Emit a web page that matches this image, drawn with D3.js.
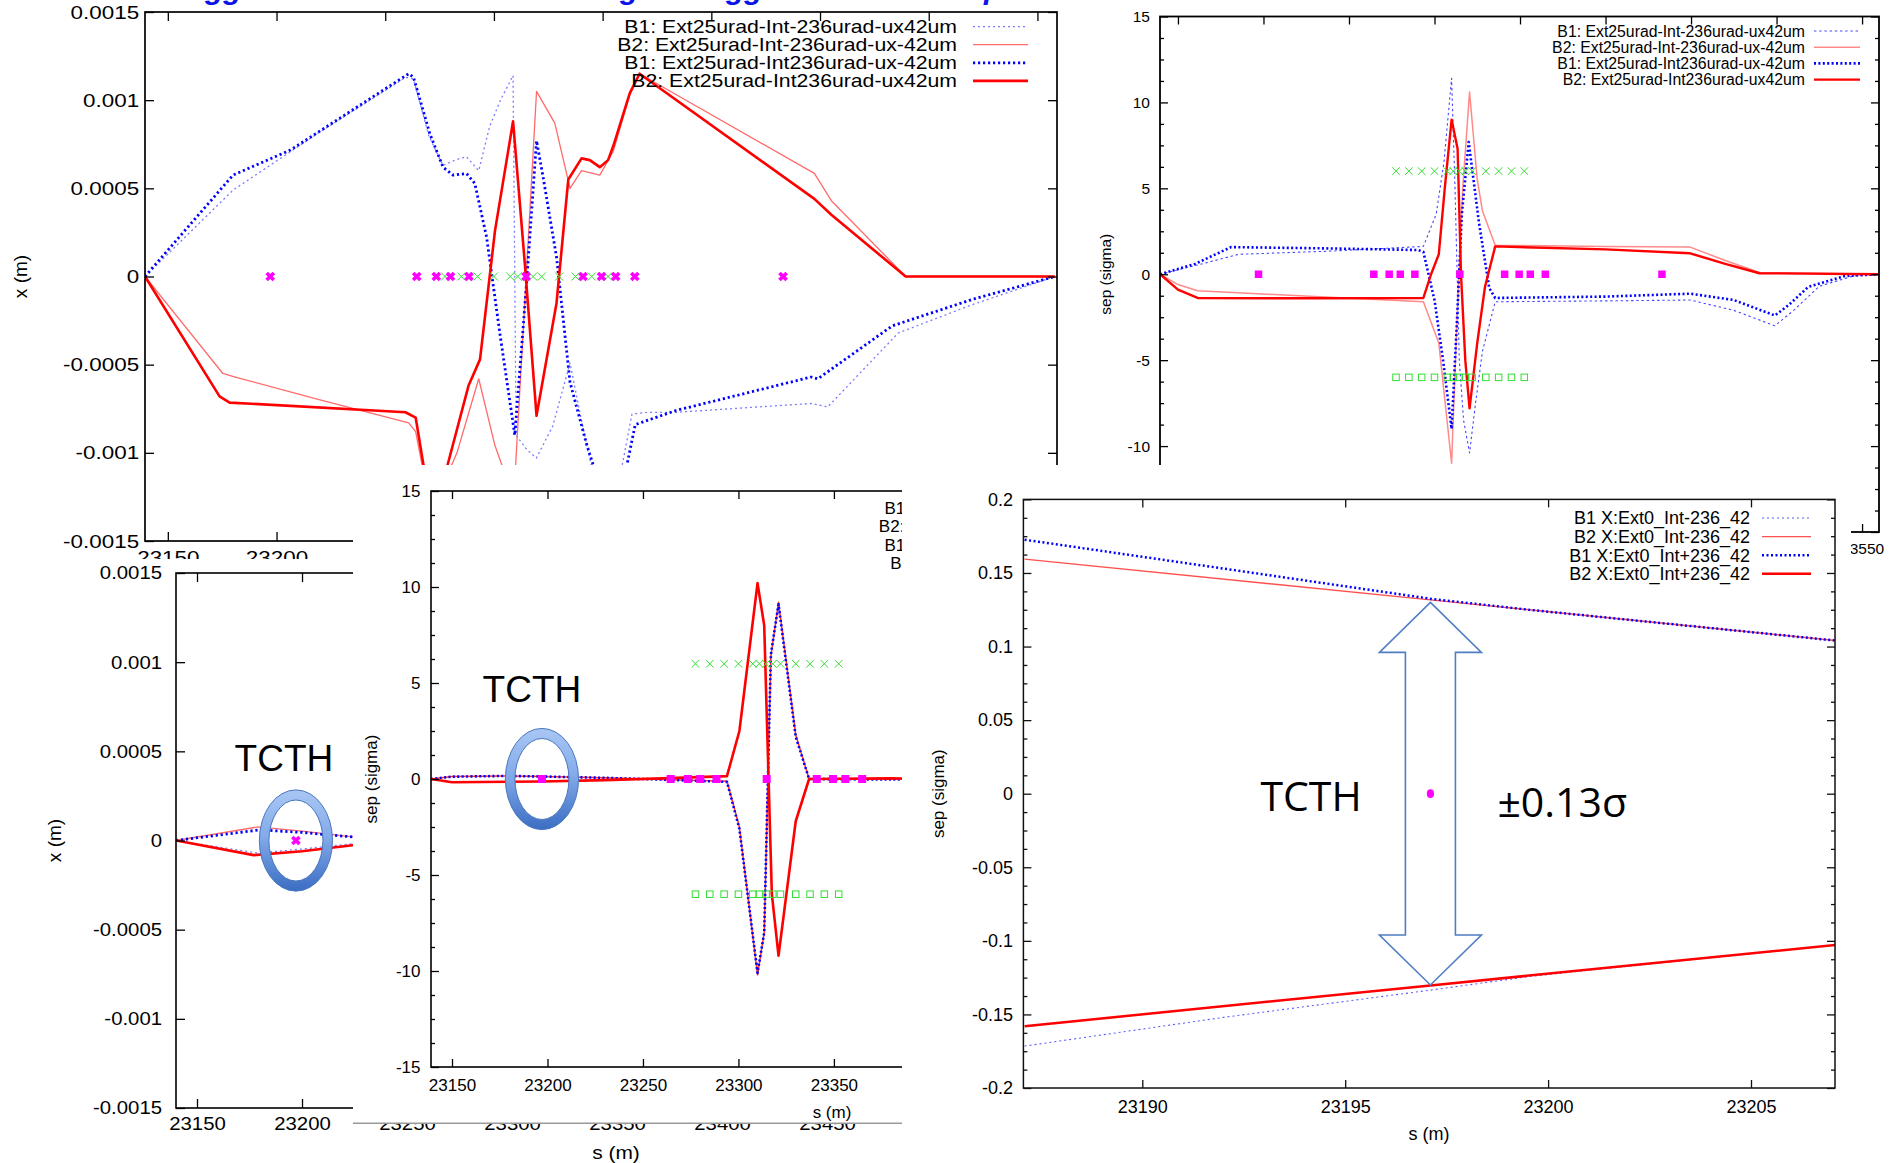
<!DOCTYPE html>
<html>
<head>
<meta charset="utf-8">
<script src="https://cdn.jsdelivr.net/npm/d3@7"></script>
<style>
  body { margin: 0; background: #fff; }
  svg { display: block; }
</style>
</head>
<body>
<svg id="c" width="1895" height="1163"></svg>
<script>
// ---------------- data ----------------
// legend texts
const seriesLabels = [
  'B1: Ext25urad-Int-236urad-ux42um',
  'B2: Ext25urad-Int-236urad-ux-42um',
  'B1: Ext25urad-Int236urad-ux-42um',
  'B2: Ext25urad-Int236urad-ux42um'
];
const zoomLabels = [
  'B1 X:Ext0_Int-236_42',
  'B2 X:Ext0_Int-236_42',
  'B1 X:Ext0_Int+236_42',
  'B2 X:Ext0_Int+236_42'
];

// tick values
const sTicks = [23150, 23200, 23250, 23300, 23350, 23400, 23450, 23500, 23550];
const sFineTicks = [23190, 23195, 23200, 23205];
const orbitTicks = [-0.0015, -0.001, -0.0005, 0, 0.0005, 0.001, 0.0015];
const sepTicks = [-15, -10, -5, 0, 5, 10, 15];
const sepFineTicks = [-0.2, -0.15, -0.1, -0.05, 0, 0.05, 0.1, 0.15, 0.2];

// element positions along s (m)
const ipMarkerS = [23197.1, 23264.5, 23273.5, 23280, 23288.5, 23314.8, 23341, 23349.5, 23356, 23364.8, 23433];
const tripletS = [23277.5, 23285, 23292.5, 23300, 23307.5, 23311, 23314.5, 23318, 23322, 23330, 23337.5, 23345, 23352.5];
const tripletLevel = 6;          // sigma
const tcthS = 23197.1;           // TCTH position (m)
const tcthHalfSep = 0.13;        // separation at TCTH (sigma)

// orbit x (m) vs s, Ext25 configurations
const orbitB1Minus = [[23139.5,0],[23180,0.00049],[23220,0.00082],[23259.5,0.00113],[23263,0.00112],[23270,0.0008],[23276.5,0.00063],[23282,0.00066],[23287.3,0.00068],[23293,0.0006],[23298,0.00085],[23303,0.001],[23308.8,0.00114],[23310.2,-0.0009],[23315,-0.00098],[23319.5,-0.00103],[23327,-0.00085],[23335,-0.00049],[23340,-0.0008],[23347,-0.0012],[23357,-0.0012],[23363.5,-0.00078],[23371,-0.00077],[23384,-0.00077],[23446,-0.00072],[23453.5,-0.00074],[23486,-0.00032],[23520,-0.00016],[23558,0]];
const orbitB2Minus = [[23139.5,0],[23175.3,-0.00055],[23181,-0.00057],[23220,-0.0007],[23260.8,-0.00083],[23264,-0.00088],[23269,-0.0012],[23276,-0.0012],[23283,-0.001],[23293,-0.00058],[23300.5,-0.00096],[23306,-0.00115],[23309.4,-0.0012],[23319.6,0.00105],[23328,0.00087],[23335,0.0005],[23340.3,0.0006],[23348.7,0.000575],[23354.9,0.00071],[23362.5,0.00103],[23367,0.00115],[23447.4,0.000585],[23455.2,0.00043],[23489.4,0],[23558,0]];
const orbitB1Plus = [[23139.5,0],[23180,0.000575],[23206.4,0.000717],[23260.8,0.00115],[23263,0.00113],[23270.5,0.00081],[23276.6,0.00062],[23281.2,0.000575],[23287.4,0.000584],[23291.2,0.000528],[23296.6,0.000225],[23302.7,-0.00032],[23309.6,-0.0009],[23315,-0.00004],[23319.6,0.00077],[23322.6,0.000565],[23328.8,0.00011],[23335,-0.0006],[23342.6,-0.00095],[23349,-0.0012],[23359,-0.0012],[23365,-0.00084],[23383.7,-0.00076],[23445.9,-0.00057],[23449,-0.00058],[23483.2,-0.00028],[23520,-0.00013],[23558,0]];
const orbitB2Plus = [[23139.5,0],[23173.8,-0.00068],[23178.4,-0.000715],[23259.3,-0.00077],[23264,-0.0008],[23268,-0.0011],[23273,-0.0012],[23278,-0.0011],[23288.3,-0.00062],[23293.6,-0.00047],[23300.5,0.00026],[23308.8,0.00088],[23314.2,0.000075],[23319.6,-0.00079],[23328.8,-0.00015],[23334.2,0.00055],[23340.3,0.00067],[23344.1,0.00066],[23348.7,0.00062],[23352.5,0.00066],[23354.9,0.00074],[23362.5,0.00104],[23367,0.00115],[23447.4,0.00044],[23455.2,0.00035],[23489.4,0],[23558,0]];

// beam-beam separation (sigma) vs s, Ext25 configurations
const sepB1Minus = [[23139.5,0],[23160,0.5],[23185.5,1.16],[23240,1.35],[23293.5,1.62],[23301,3.5],[23305.5,6.5],[23310,11.4],[23312,5],[23314.5,-5],[23317,-8.5],[23320.5,-10.4],[23324,-7.5],[23328,-4.5],[23335.5,-1.6],[23400,-1.55],[23449.5,-1.5],[23475,-2.1],[23499,-3.0],[23510,-2.1],[23525,-0.7],[23545,-0.1],[23559.9,0]];
const sepB2Minus = [[23139.5,0],[23150,-0.6],[23161.5,-0.96],[23230,-1.3],[23293.5,-1.6],[23302.5,-4],[23310,-11],[23313,-3],[23316.5,5],[23320.5,10.6],[23325,5.5],[23328,3.7],[23335.5,1.69],[23400,1.62],[23449.5,1.58],[23470,0.8],[23490,0.1],[23559.9,0]];
const sepB1Plus = [[23139.5,0],[23160,0.6],[23181,1.58],[23240,1.5],[23290.5,1.41],[23293.5,1.3],[23300,-1.5],[23305,-5],[23310,-9],[23313,-3],[23316,3.5],[23320,7.7],[23326,3],[23332,-0.8],[23335.5,-1.38],[23400,-1.3],[23449.5,-1.13],[23475,-1.5],[23499,-2.4],[23507,-1.8],[23518.5,-0.74],[23540,-0.1],[23559.9,0]];
const sepB2Plus = [[23139.5,0],[23150,-0.9],[23161.5,-1.38],[23230,-1.4],[23293.5,-1.38],[23298,0],[23302.5,1.16],[23306,5],[23310,9],[23313.5,7.3],[23315.5,0],[23318,-5],[23320.5,-7.8],[23325,-4],[23329.5,-0.74],[23335.5,1.62],[23400,1.45],[23449.5,1.22],[23470,0.6],[23490,0.06],[23559.9,0]];

// orbit x (m) vs s, Ext0 configurations
const tcthOrbitB1Minus = [[23140,0],[23179,-0.00007],[23200,-0.000048],[23224,-0.000018],[23240,-0.000008]];
const tcthOrbitB2Minus = [[23140,0],[23179,0.000076],[23200,0.000052],[23224,0.00002],[23240,0.00001]];
const tcthOrbitB1Plus = [[23140,0],[23180,0.00006],[23200,0.000045],[23224,0.00002],[23240,0.00001]];
const tcthOrbitB2Plus = [[23140,0],[23177,-0.000082],[23200,-0.00006],[23224,-0.000027],[23240,-0.000014]];

// separation (sigma) vs s, Ext0 configurations
const tcthSepB1Minus = [[23139,0],[23150,-0.15],[23197.1,-0.133],[23230,-0.06],[23260,0.03],[23294,0.14],[23300.5,2.4],[23310,10.1],[23313.5,8],[23317.5,-6],[23321,-9.1],[23330,-2.2],[23337,0],[23559,0]];
const tcthSepB2Minus = [[23139,0],[23150,0.13],[23178,0.16],[23197.1,0.13],[23230,0.06],[23260,-0.03],[23294,-0.12],[23300.5,-2.5],[23310,-10.2],[23313.5,-8],[23317,6.4],[23321,9.2],[23330,2.3],[23337,0],[23559,0]];
const tcthSepB1Plus = [[23139,0],[23150,0.12],[23178,0.16],[23197.1,0.13],[23230,0.06],[23260,-0.03],[23294,-0.15],[23300.5,-2.6],[23310,-10.1],[23313.5,-8],[23317,6.5],[23321,9.1],[23330,2.2],[23337,0],[23380,-0.03],[23420,0],[23559,0]];
const tcthSepB2Plus = [[23139,0],[23150,-0.17],[23197.1,-0.13],[23230,-0.06],[23260,0.03],[23294,0.15],[23300.5,2.5],[23310,10.2],[23313.5,8],[23317.5,-6],[23321,-9.2],[23330,-2.2],[23337,0],[23380,0.03],[23420,0],[23559,0]];

// separation (sigma) close to the TCTH
const zoomSepB1Minus = [[23187.1,-0.1715],[23192,-0.152],[23197.1,-0.1335],[23199.6,-0.124],[23207.1,-0.1027]];
const zoomSepB2Minus = [[23187.1,0.1594],[23197.1,0.1317],[23207.1,0.104]];
const zoomSepB1Plus = [[23187.1,0.1726],[23192,0.153],[23197.1,0.1325],[23199.6,0.1248],[23207.1,0.104]];
const zoomSepB2Plus = [[23187.1,-0.158],[23197.1,-0.1303],[23207.1,-0.1027]];

// ---------------- drawing helpers ----------------
const FONT = '"Liberation Sans", Arial, Helvetica, sans-serif';
const svg = d3.select('#c');
const defs = svg.append('defs');
svg.append('rect').attr('width', 1895).attr('height', 1163).attr('fill', '#fff');

const grad = defs.append('linearGradient').attr('id', 'ringFill')
  .attr('x1', 0).attr('y1', 0).attr('x2', 0).attr('y2', 1);
grad.append('stop').attr('offset', 0).attr('stop-color', '#a9c7f4');
grad.append('stop').attr('offset', 0.45).attr('stop-color', '#84abea');
grad.append('stop').attr('offset', 1).attr('stop-color', '#3b6dc3');

let clipN = 0;
function clip(x0, y0, x1, y1) {
  const id = 'cp' + (clipN++);
  defs.append('clipPath').attr('id', id).append('rect')
    .attr('x', x0).attr('y', y0).attr('width', x1 - x0).attr('height', y1 - y0);
  return `url(#${id})`;
}

function txt(parent, x, y, str, o = {}) {
  let tr = `translate(${x},${y})`;
  if (o.rotate) tr += ` rotate(${o.rotate})`;
  if (o.k && o.k !== 1) tr += ` scale(${o.k},1)`;
  return parent.append('text').attr('transform', tr)
    .attr('text-anchor', o.anchor || 'middle')
    .attr('dy', o.dy == null ? '0.35em' : o.dy)
    .attr('font-family', o.family || FONT)
    .attr('font-size', o.size || 16)
    .attr('font-weight', o.weight || 'normal')
    .attr('font-style', o.style || 'normal')
    .attr('fill', o.fill || '#000')
    .text(str);
}

// frame with inward ticks on all four sides; labels on the left and bottom
function drawAxes(g, x, y, o) {
  const ax = g.append('g').attr('color', o.axisColor || '#000');
  const fmt = d => String(d);
  // bottom labels only where the panel is not covered by a neighbour
  const xFmt = o.xLabelMax == null ? fmt : (d => x(d) <= o.xLabelMax && x(d) >= (o.xLabelMin || -1e9) ? String(d) : '');
  ax.append('g').attr('transform', `translate(${o.l},0)`)
    .call(d3.axisLeft(y).tickValues(o.yTicks).tickSize(-o.tick).tickSizeOuter(0).tickPadding(o.yPad).tickFormat(fmt));
  ax.append('g').attr('transform', `translate(${o.r},0)`)
    .call(d3.axisRight(y).tickValues(o.yTicks).tickSize(-o.tick).tickSizeOuter(0).tickFormat(''));
  ax.append('g').attr('transform', `translate(0,${o.b})`)
    .call(d3.axisBottom(x).tickValues(o.xTicks).tickSize(-o.tick).tickSizeOuter(0).tickPadding(o.xPad).tickFormat(xFmt));
  ax.append('g').attr('transform', `translate(0,${o.t})`)
    .call(d3.axisTop(x).tickValues(o.xTicks).tickSize(-o.tick).tickSizeOuter(0).tickFormat(''));
  if (o.yMinor) {
    ax.append('g').attr('transform', `translate(${o.l},0)`)
      .call(d3.axisLeft(y).tickValues(o.yMinor).tickSize(-o.tick / 2).tickSizeOuter(0).tickFormat(''));
    ax.append('g').attr('transform', `translate(${o.r},0)`)
      .call(d3.axisRight(y).tickValues(o.yMinor).tickSize(-o.tick / 2).tickSizeOuter(0).tickFormat(''));
  }
  ax.selectAll('.domain').remove();
  ax.selectAll('text').filter(function () { return this.textContent === ''; }).remove();
  ax.selectAll('.tick line').attr('stroke-width', o.tickWidth || 1.3);
  ax.selectAll('text').attr('font-family', FONT).attr('font-size', o.font).attr('fill', '#000');
  if (o.k && o.k !== 1) ax.selectAll('text').attr('transform', `scale(${o.k},1)`);
  ax.append('rect').attr('x', o.l).attr('y', o.t).attr('width', o.r - o.l).attr('height', o.b - o.t)
    .attr('fill', 'none').attr('stroke', 'currentColor').attr('stroke-width', o.frameWidth || 1.6);
}

function drawSeries(g, x, y, series, styles) {
  const line = d3.line().x(d => x(d[0])).y(d => y(d[1]));
  series.forEach((data, i) => {
    const st = styles[i];
    g.append('path').datum(data).attr('d', line)
      .attr('fill', 'none').attr('stroke', st.c).attr('stroke-width', st.w)
      .attr('stroke-dasharray', st.d || null).attr('stroke-linejoin', 'round');
  });
}

function drawLegend(g, labels, styles, o) {
  labels.forEach((lab, i) => {
    const yy = o.y0 + i * o.dy;
    txt(g, o.xText, yy, lab, { size: o.size, anchor: 'end', k: o.k });
    const st = styles[i];
    g.append('line').attr('x1', o.x0).attr('x2', o.x1).attr('y1', yy).attr('y2', yy)
      .attr('stroke', st.c).attr('stroke-width', st.w).attr('stroke-dasharray', st.d || null);
  });
}

function crosses(g, pts, x, y, half, width, color) {
  g.selectAll(null).data(pts).join('path')
    .attr('d', d => {
      const cx = x(d[0]), cy = y(d[1]);
      return `M${cx - half},${cy - half}L${cx + half},${cy + half}M${cx - half},${cy + half}L${cx + half},${cy - half}`;
    })
    .attr('fill', 'none').attr('stroke', color).attr('stroke-width', width);
}

function squares(g, pts, x, y, size, filled, color) {
  g.selectAll(null).data(pts).join('rect')
    .attr('x', d => x(d[0]) - size / 2).attr('y', d => y(d[1]) - size / 2)
    .attr('width', size).attr('height', size)
    .attr('fill', filled ? color : 'none').attr('stroke', color).attr('stroke-width', filled ? 0 : 1);
}

function ring(g, cx, cy) {
  const o = { rx: 36.6, ry: 50.6 }, i = { rx: 27, ry: 40.5 };
  const ell = (e) => `M${cx - e.rx},${cy}a${e.rx},${e.ry} 0 1,0 ${2 * e.rx},0a${e.rx},${e.ry} 0 1,0 ${-2 * e.rx},0Z`;
  g.append('path').attr('d', ell(o) + ell(i)).attr('fill-rule', 'evenodd')
    .attr('fill', 'url(#ringFill)').attr('stroke', '#4a77bd').attr('stroke-width', 1);
}

function panelBox(box) {
  const g = svg.append('g').attr('clip-path', clip(box[0], box[1], box[2], box[3]));
  g.append('rect').attr('x', box[0]).attr('y', box[1])
    .attr('width', box[2] - box[0]).attr('height', box[3] - box[1]).attr('fill', '#fff');
  return g;
}

const stylesOrbit = [
  { c: '#7b7bff', w: 1.3, d: '2,3' },
  { c: '#ff6b6b', w: 1.3 },
  { c: '#0000ff', w: 2.8, d: '2.2,2.8' },
  { c: '#ff0000', w: 2.6 }
];
const stylesSep = [
  { c: '#4646ff', w: 1.1, d: '2.4,2.8' },
  { c: '#ff8a8a', w: 1.5 },
  { c: '#0000ff', w: 2.6, d: '2,2.4' },
  { c: '#ff0000', w: 2.4 }
];
const stylesTcth = [
  { c: '#4646ff', w: 1.1, d: '2,3' },
  { c: '#ff3030', w: 1.5 },
  { c: '#0000ff', w: 2.6, d: '2,2.4' },
  { c: '#ff0000', w: 2.6 }
];
const stylesZoom = [
  { c: '#5c5cff', w: 1.1, d: '2,3' },
  { c: '#ff5050', w: 1.4 },
  { c: '#0000ff', w: 2.5, d: '2,2.5' },
  { c: '#ff0000', w: 2.5 }
];

const sepMinor = d3.range(-12, 13).filter(i => i % 4 !== 0).map(i => i * 1.25);
const sepFineMinor = d3.range(-16, 17).filter(i => i % 4 !== 0).map(i => i * 0.0125);

// ---------------- orbit, Ext25 (upper left) ----------------
{
  const o = { l: 145, r: 1057, t: 12, b: 541, tick: 9, font: 19, k: 1.18, yPad: 5, xPad: 10,
    xTicks: sTicks, yTicks: orbitTicks, frameWidth: 1.7, xLabelMax: 330 };
  const g = svg.append('g');
  const x = d3.scaleLinear().domain([23139.5, 23559]).range([o.l, o.r]);
  const y = d3.scaleLinear().domain([-0.0015, 0.0015]).range([o.b, o.t]);
  const plot = g.append('g').attr('clip-path', clip(o.l, o.t, o.r, o.b));
  drawSeries(plot, x, y, [orbitB1Minus, orbitB2Minus, orbitB1Plus, orbitB2Plus], stylesOrbit);
  crosses(plot, tripletS.map(s => [s, 0]), x, y, 4, 1, '#33dd33');
  crosses(plot, ipMarkerS.map(s => [s, 0]), x, y, 3.6, 3.6, '#ff00ff');
  drawAxes(g, x, y, o);
  drawLegend(g, seriesLabels, stylesOrbit, { xText: 957, y0: 26.6, dy: 18.1, x0: 973, x1: 1028, size: 18, k: 1.18 });
  txt(g, 20, y(0), 'x (m)', { size: 19, rotate: -90 });
}

// ---------------- separation, Ext25 (upper right) ----------------
{
  const o = { l: 1160, r: 1879, t: 16.5, b: 532, tick: 8, font: 15.5, yPad: 10, xPad: 11,
    xTicks: sTicks, yTicks: sepTicks, yMinor: sepMinor, frameWidth: 1.8, xLabelMin: 1851, xLabelMax: 2000 };
  const g = panelBox([1062, 0, 1895, 600]);
  const x = d3.scaleLinear().domain([23139.5, 23559.9]).range([o.l, o.r]);
  const y = d3.scaleLinear().domain([-15, 15]).range([o.b, o.t]);
  const plot = g.append('g').attr('clip-path', clip(o.l, o.t, o.r, o.b));
  drawSeries(plot, x, y, [sepB1Minus, sepB2Minus, sepB1Plus, sepB2Plus], stylesSep);
  crosses(plot, tripletS.map(s => [s, tripletLevel]), x, y, 3.8, 1, '#33dd33');
  squares(plot, tripletS.map(s => [s, -tripletLevel]), x, y, 6.5, false, '#33dd33');
  squares(plot, ipMarkerS.map(s => [s, 0]), x, y, 7.5, true, '#ff00ff');
  drawAxes(g, x, y, o);
  drawLegend(g, seriesLabels, stylesSep, { xText: 1805, y0: 31, dy: 16.2, x0: 1814, x1: 1860, size: 15.8 });
  txt(g, 1106, y(0), 'sep (sigma)', { size: 15.5, rotate: -90 });
}

// ---------------- orbit, Ext0 (lower left) ----------------
{
  const o = { l: 176, r: 1056, t: 573, b: 1108, tick: 9, font: 18.5, k: 1.1, yPad: 12.7, xPad: 9,
    xTicks: sTicks, yTicks: orbitTicks, frameWidth: 1.6, xLabelMax: 880 };
  const g = panelBox([0, 559, 902, 1163]);
  const x = d3.scaleLinear().domain([23140, 23559]).range([o.l, o.r]);
  const y = d3.scaleLinear().domain([-0.0015, 0.0015]).range([o.b, o.t]);
  const plot = g.append('g').attr('clip-path', clip(o.l, o.t, o.r, o.b));
  drawSeries(plot, x, y, [tcthOrbitB1Minus, tcthOrbitB2Minus, tcthOrbitB1Plus, tcthOrbitB2Plus], stylesOrbit);
  crosses(plot, ipMarkerS.map(s => [s, 0]), x, y, 3.6, 3.6, '#ff00ff');
  drawAxes(g, x, y, o);
  txt(g, 54, y(0), 'x (m)', { size: 19, rotate: -90 });
  txt(g, 616, 1152, 's (m)', { size: 19, k: 1.1 });
  ring(g, x(tcthS), y(0));
  txt(g, x(tcthS) - 12, y(0) - 70, 'TCTH', { size: 37, dy: 0 });
}

// ---------------- separation, Ext0 (lower middle) ----------------
{
  const o = { l: 431, r: 1233, t: 491, b: 1067, tick: 8, font: 17, yPad: 10.5, xPad: 12,
    xTicks: sTicks, yTicks: sepTicks, yMinor: sepMinor, frameWidth: 1.6, xLabelMax: 880 };
  const g = panelBox([353, 465, 902, 1124]);
  const x = d3.scaleLinear().domain([23139, 23559]).range([o.l, o.r]);
  const y = d3.scaleLinear().domain([-15, 15]).range([o.b, o.t]);
  const plot = g.append('g').attr('clip-path', clip(o.l, o.t, o.r, o.b));
  drawSeries(plot, x, y, [tcthSepB1Minus, tcthSepB2Minus, tcthSepB1Plus, tcthSepB2Plus], stylesTcth);
  crosses(plot, tripletS.map(s => [s, tripletLevel]), x, y, 3.8, 1, '#33dd33');
  squares(plot, tripletS.map(s => [s, -tripletLevel]), x, y, 6.5, false, '#33dd33');
  squares(plot, ipMarkerS.map(s => [s, 0]), x, y, 8, true, '#ff00ff');
  drawAxes(g, x, y, o);
  drawLegend(g, seriesLabels, stylesTcth, { xText: 1151, y0: 508, dy: 18.3, x0: 1161, x1: 1211, size: 17 });
  txt(g, 371, y(0), 'sep (sigma)', { size: 17, rotate: -90 });
  txt(g, 832, 1112, 's (m)', { size: 17 });
  ring(g, x(tcthS), y(0));
  txt(g, x(tcthS) - 10, y(0) - 77, 'TCTH', { size: 37, dy: 0 });
  g.append('line').attr('x1', 353).attr('x2', 902).attr('y1', 1123.2).attr('y2', 1123.2)
    .attr('stroke', '#9a9a9a').attr('stroke-width', 1.6);
}

// ---------------- separation near the TCTH (lower right) ----------------
{
  const o = { l: 1023.4, r: 1835, t: 499.4, b: 1088, tick: 8, font: 18, yPad: 10.4, xPad: 12.5,
    xTicks: sFineTicks, yTicks: sepFineTicks, yMinor: sepFineMinor, frameWidth: 1.5, axisColor: '#111' };
  const g = panelBox([902, 465, 1851, 1163]);
  const x = d3.scaleLinear().domain([23187.07, 23207.07]).range([o.l, o.r]);
  const y = d3.scaleLinear().domain([-0.2, 0.2]).range([o.b, o.t]);
  const plot = g.append('g').attr('clip-path', clip(o.l, o.t, o.r, o.b));
  drawSeries(plot, x, y, [zoomSepB1Minus, zoomSepB2Minus, zoomSepB1Plus, zoomSepB2Plus], stylesZoom);
  plot.append('ellipse').attr('cx', x(tcthS)).attr('cy', y(0)).attr('rx', 3.6).attr('ry', 4.4).attr('fill', '#ff00ff');
  drawAxes(g, x, y, o);
  drawLegend(g, zoomLabels, stylesZoom, { xText: 1750, y0: 518, dy: 18.6, x0: 1762, x1: 1811, size: 18 });
  txt(g, 938, y(0), 'sep (sigma)', { size: 17, rotate: -90 });
  txt(g, 1429, 1134, 's (m)', { size: 18 });

  // double arrow spanning the separation at the TCTH
  const cx = x(tcthS), yTop = y(tcthHalfSep), yBot = y(-tcthHalfSep);
  const hw = 51, sw = 25, hl = 50;
  const arrow = [
    [cx, yTop], [cx + hw, yTop + hl], [cx + sw, yTop + hl], [cx + sw, yBot - hl], [cx + hw, yBot - hl],
    [cx, yBot], [cx - hw, yBot - hl], [cx - sw, yBot - hl], [cx - sw, yTop + hl], [cx - hw, yTop + hl]
  ];
  g.append('path').attr('d', 'M' + arrow.map(p => p.join(',')).join('L') + 'Z')
    .attr('fill', 'none').attr('stroke', '#4f7ec2').attr('stroke-width', 1.6).attr('stroke-linejoin', 'miter');
  txt(g, cx - 170, y(0) + 17, 'TCTH', { size: 41, anchor: 'start', dy: 0, family: '"Open Sans", Lato, sans-serif' });
  txt(g, cx + 67, y(0) + 23, `±${tcthHalfSep}σ`, { size: 41, anchor: 'start', dy: 0, family: '"Open Sans", "Noto Sans", sans-serif' });
}

// ---------------- slide heading (mostly above the page edge) ----------------
{
  const g = svg.append('g');
  [[205, 'gg'], [620, 'g'], [726, 'gg'], [984, 'p']].forEach(([hx, t]) => {
    txt(g, hx, -1, t, { size: 30, anchor: 'start', dy: 0, weight: 'bold', style: 'italic', fill: '#0a14e6' });
  });
}
</script>
</body>
</html>
